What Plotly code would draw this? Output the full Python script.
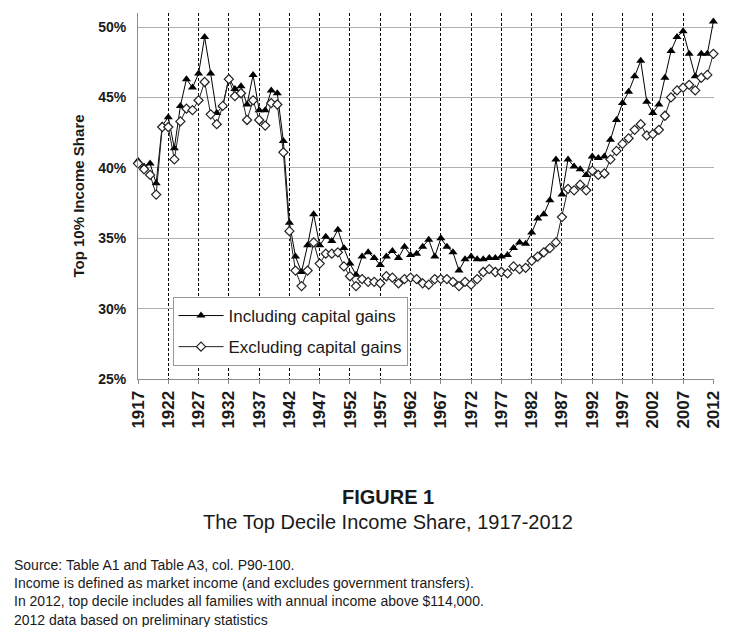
import plotly.graph_objects as go

# years 1917-2012
years = list(range(1917, 2013))

# top decile share including capital gains (%)
incl_cg = [40.5, 40.1, 40.3, 38.9, 43.0, 43.6, 41.4, 44.4, 46.3, 45.7,
           46.7, 49.3, 46.7, 43.9, 44.4, 46.4, 45.6, 45.8, 44.5, 46.6,
           44.1, 44.1, 45.5, 45.3, 41.9, 36.1, 33.7, 32.6, 34.5, 36.7,
           34.5, 35.1, 34.8, 35.6, 34.3, 33.2, 32.4, 33.7, 34.0, 33.6,
           33.1, 33.7, 34.1, 33.6, 34.4, 33.8, 33.9, 34.4, 34.9, 33.7,
           35.0, 34.4, 34.0, 32.7, 33.5, 33.7, 33.5, 33.5, 33.6, 33.6,
           33.7, 33.8, 34.3, 34.7, 34.6, 35.4, 36.4, 36.7, 37.7, 40.6,
           38.1, 40.6, 40.1, 39.9, 39.5, 40.8, 40.7, 40.8, 42.0, 43.4,
           44.6, 45.4, 46.5, 47.6, 44.7, 43.9, 44.5, 46.4, 48.3, 49.3,
           49.7, 48.1, 46.5, 48.1, 48.1, 50.4]

# top decile share excluding capital gains (%)
excl_cg = [40.3, 39.9, 39.5, 38.1, 42.9, 42.9, 40.6, 43.3, 44.2, 44.1,
           44.8, 46.1, 43.8, 43.1, 44.4, 46.3, 45.1, 45.3, 43.4, 44.8,
           43.4, 43.0, 44.6, 44.5, 41.1, 35.5, 32.7, 31.6, 32.7, 34.7,
           33.2, 33.9, 33.9, 34.0, 33.0, 32.3, 31.6, 32.1, 31.9, 31.9,
           31.8, 32.3, 32.2, 31.8, 32.1, 32.2, 32.1, 31.8, 31.7, 32.1,
           32.1, 32.1, 31.9, 31.6, 31.9, 31.7, 32.1, 32.6, 32.8, 32.6,
           32.6, 32.5, 33.0, 32.8, 32.9, 33.4, 33.7, 34.0, 34.3, 34.7,
           36.5, 38.5, 38.4, 38.8, 38.4, 39.8, 39.5, 39.6, 40.6, 41.2,
           41.7, 42.1, 42.7, 43.1, 42.3, 42.4, 42.7, 43.7, 45.0, 45.5,
           45.7, 45.9, 45.5, 46.4, 46.6, 48.1]

x_ticks = list(range(1917, 2013, 5))
y_ticks = [25, 30, 35, 40, 45, 50]
y_labels = ["25%", "30%", "35%", "40%", "45%", "50%"]

source_lines = [
    "Source: Table A1 and Table A3, col. P90-100.",
    "Income is defined as market income (and excludes government transfers).",
    "In 2012, top decile includes all families with annual income above $114,000.",
    "2012 data based on preliminary statistics",
]

# page body has an 8px margin, so the figure is 16px smaller than the window
OFF = 8
W, H = 720, 619
L, R, T, B = 130, 6, 5, 248
plot_w = W - L - R
plot_h = H - T - B


def px_x(x):
    # window pixel -> paper x
    return (x - OFF - L) / plot_w


def px_y(y):
    # window pixel -> paper y
    return (H - B - (y - OFF)) / plot_h


FONT = "Arial, Liberation Sans, sans-serif"

fig = go.Figure()
fig.add_trace(go.Scatter(
    x=years, y=incl_cg, name="Including capital gains", mode="lines+markers",
    line=dict(color="black", width=1),
    marker=dict(symbol="triangle-up", size=8, color="black"),
    legendgroup="a", cliponaxis=False,
))
fig.add_trace(go.Scatter(
    x=years, y=excl_cg, name="Excluding capital gains", mode="lines+markers",
    line=dict(color="#222222", width=1),
    marker=dict(symbol="diamond", size=7, color="white",
                line=dict(color="#222222", width=1.2)),
    legendgroup="b", cliponaxis=False,
))

fig.update_xaxes(
    range=[1917, 2012.1], tickvals=x_ticks, tickangle=-90,
    ticklabeloverflow="allow",
    tickfont=dict(family=FONT, size=17, color="#1a1a1a", weight="bold"),
    showgrid=True, gridcolor="black", griddash="3px,2px", gridwidth=1,
    showline=True, linecolor="#8c8c8c", linewidth=1,
    ticks="outside", ticklen=4, tickcolor="#8c8c8c", zeroline=False,
)
fig.update_yaxes(
    range=[25, 51], tickvals=y_ticks, ticktext=y_labels,
    ticklabelstandoff=8,
    tickfont=dict(family=FONT, size=14, color="#1a1a1a", weight="bold"),
    showgrid=True, gridcolor="#b0b0b0", gridwidth=1,
    showline=True, linecolor="#8c8c8c", linewidth=1, zeroline=False,
    title=dict(text="Top 10% Income Share", standoff=9,
               font=dict(family=FONT, size=15, color="#1a1a1a", weight="bold")),
)

fig.add_annotation(text="<b>FIGURE 1</b>", x=px_x(391), y=px_y(497),
                   xref="paper", yref="paper", xanchor="center", yanchor="middle",
                   showarrow=False, font=dict(family=FONT, size=20, color="#1a1a1a"))
fig.add_annotation(text="The Top Decile Income Share, 1917-2012", x=px_x(391), y=px_y(522),
                   xref="paper", yref="paper", xanchor="center", yanchor="middle",
                   showarrow=False, font=dict(family=FONT, size=20, color="#1a1a1a"))
for i, line in enumerate(source_lines):
    fig.add_annotation(text=line, x=px_x(10), y=px_y(565 + i * 18.2),
                       xref="paper", yref="paper", xanchor="left", yanchor="middle",
                       showarrow=False, font=dict(family=FONT, size=14, color="#1a1a1a"))

fig.update_layout(
    width=W, height=H,
    margin=dict(l=L, r=R, t=T, b=B),
    paper_bgcolor="white", plot_bgcolor="white",
    showlegend=True,
    legend=dict(x=px_x(173), y=px_y(297), xanchor="left", yanchor="top",
                bgcolor="white", bordercolor="#999999", borderwidth=1,
                tracegroupgap=6, itemwidth=45,
                font=dict(family=FONT, size=17, color="#1a1a1a")),
)

fig.write_html("out.html")
